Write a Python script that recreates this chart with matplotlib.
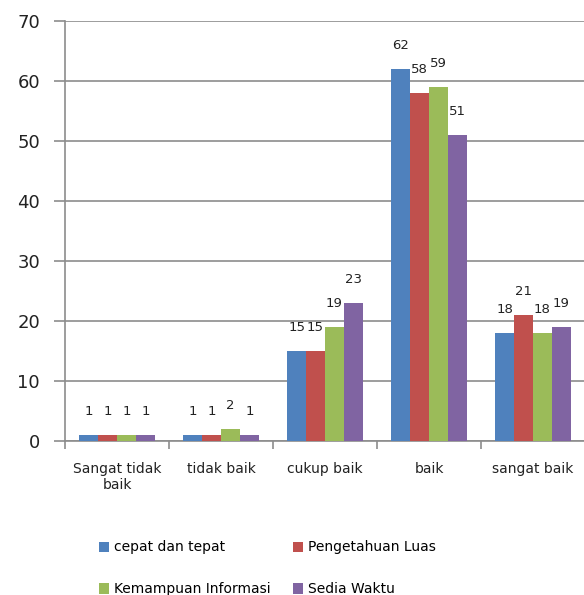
import numpy as np
import matplotlib
matplotlib.use('Agg')
import matplotlib.pyplot as plt

categories = ['Sangat tidak\nbaik', 'tidak baik', 'cukup baik', 'baik', 'sangat baik']
series_names = ['cepat dan tepat', 'Pengetahuan Luas', 'Kemampuan Informasi', 'Sedia Waktu']
cepat_dan_tepat = [1, 1, 15, 62, 18]
pengetahuan_luas = [1, 1, 15, 58, 21]
kemampuan_informasi = [1, 2, 19, 59, 18]
sedia_waktu = [1, 1, 23, 51, 19]
colors = ['#4F81BD', '#C0504D', '#9BBB59', '#8064A2']

plt.rcParams['font.family'] = ['DejaVu Sans']

fig = plt.figure(figsize=(5.84, 5.95), dpi=100)
ax = fig.add_axes([65/584, 154/595, 520/584, 420/595])

all_series = [cepat_dan_tepat, pengetahuan_luas, kemampuan_informasi, sedia_waktu]
x = np.arange(len(categories))
w = 1/5.5
bars = []
for i, vals in enumerate(all_series):
    pos = x + (i - 1.5) * w
    b = ax.bar(pos, vals, width=w, color=colors[i], label=series_names[i], zorder=3)
    bars.append(b)
    for px, v in zip(pos, vals):
        ax.annotate(str(v), (px, v), xytext=(0, 17), textcoords='offset points',
                    ha='center', va='center', fontsize=9.5, color='#222222')

ax.set_xlim(-0.5, len(categories) - 0.5)
ax.set_ylim(0, 70)
ax.set_yticks(range(0, 71, 10))
ax.yaxis.grid(True, color='#8c8c8c', linewidth=1.2, zorder=0)
ax.tick_params(axis='y', length=8, width=1.2, color='#8c8c8c', labelsize=13,
               labelcolor='#222222', pad=10)

# boundaries get the tick marks, centres get the labels
ax.set_xticks(np.arange(-0.5, len(categories), 1))
ax.set_xticklabels([])
ax.tick_params(axis='x', which='major', length=6, width=1.2, color='#8c8c8c')
ax.set_xticks(x, minor=True)
ax.set_xticklabels(categories, minor=True, fontsize=10, color='#222222')
ax.tick_params(axis='x', which='minor', length=0, pad=15)

for s in ['top', 'right']:
    ax.spines[s].set_visible(False)
for s in ['left', 'bottom']:
    ax.spines[s].set_color('#8c8c8c')
    ax.spines[s].set_linewidth(1.2)

# column-wise fill, so reorder to get two rows of two
order = [0, 2, 1, 3]
handles = [bars[i] for i in order]
labels = [series_names[i] for i in order]
fig.legend(handles, labels, loc='upper left', bbox_to_anchor=(86/584, 1 - 528/595),
           ncol=2, frameon=False, fontsize=10, handlelength=0.75, handleheight=0.75,
           handletextpad=0.35, labelspacing=2.0, columnspacing=1.6)

fig.savefig('out.png', dpi=100)
